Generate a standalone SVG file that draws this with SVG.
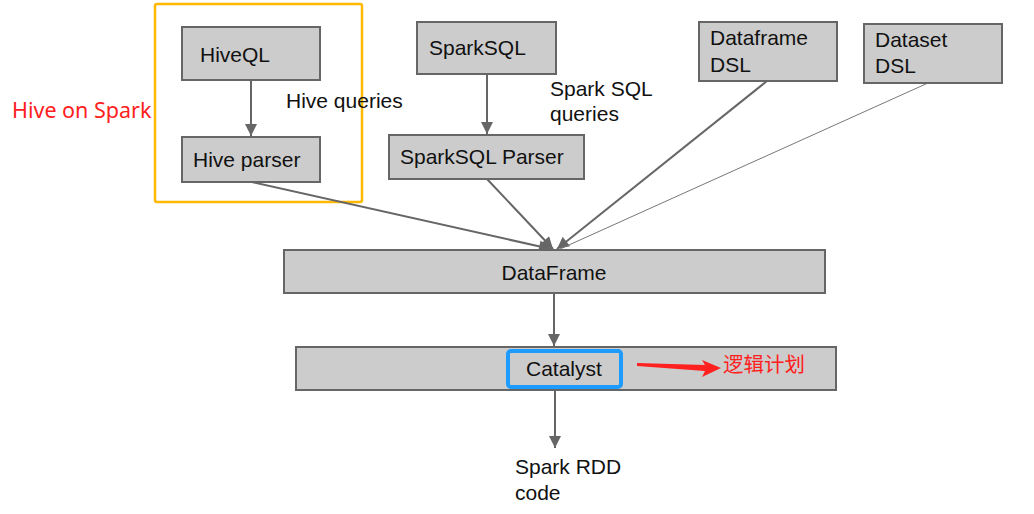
<svg xmlns="http://www.w3.org/2000/svg" width="1034" height="514" viewBox="0 0 1034 514">
<defs>
<style>
.box{fill:#cccccc;stroke:#666666;stroke-width:2}
.t{font-family:"Liberation Sans",Arial,sans-serif;font-size:21px;fill:#111111}
.c{stroke:#666666;stroke-width:2;fill:none}
.red{font-family:"Noto Sans","Noto Sans CJK SC",sans-serif;font-size:20.5px;fill:#ff2020}
</style>
<marker id="ah" viewBox="0 0 10 10" refX="10" refY="5" markerWidth="6.5" markerHeight="6" orient="auto" markerUnits="strokeWidth">
<path d="M0,0 L10,5 L0,10 z" fill="#666666"/>
</marker>
</defs>
<rect width="1034" height="514" fill="#ffffff"/>
<g id="hive-on-spark">
<rect x="155" y="4" width="207" height="198" rx="2" fill="none" stroke="#ffb900" stroke-width="2.5"/>
<text class="red" x="12" y="118" style="font-size:21.5px">Hive on Spark</text>
</g>
<g id="connectors">
<line class="c" x1="251" y1="80" x2="251" y2="136" marker-end="url(#ah)"/>
<line class="c" x1="487" y1="74" x2="487" y2="134" marker-end="url(#ah)"/>
<line class="c" x1="252" y1="182" x2="551" y2="249" marker-end="url(#ah)"/>
<line class="c" x1="487" y1="179" x2="553" y2="249" marker-end="url(#ah)"/>
<line class="c" x1="767" y1="81" x2="557" y2="249" marker-end="url(#ah)"/>
<line x1="928" y1="83" x2="560" y2="249" stroke="#777777" stroke-width="1"/>
<line class="c" x1="554" y1="293" x2="554" y2="346" marker-end="url(#ah)"/>
<line class="c" x1="555" y1="390" x2="555" y2="448" marker-end="url(#ah)"/>
<text class="t" x="286" y="108">Hive queries</text>
<text class="t" x="550" y="96">Spark SQL</text>
<text class="t" x="550" y="121">queries</text>
<text class="t" x="515" y="474">Spark RDD</text>
<text class="t" x="515" y="500">code</text>
</g>
<g id="hiveql"><rect class="box" x="182" y="27" width="138" height="53"/><text class="t" x="200" y="62">HiveQL</text></g>
<g id="hive-parser"><rect class="box" x="182" y="137" width="138" height="45"/><text class="t" x="193" y="167">Hive parser</text></g>
<g id="sparksql"><rect class="box" x="417" y="22" width="139" height="52"/><text class="t" x="429" y="55">SparkSQL</text></g>
<g id="sparksql-parser"><rect class="box" x="389" y="135" width="195" height="44"/><text class="t" x="400" y="164">SparkSQL Parser</text></g>
<g id="dataframe-dsl"><rect class="box" x="699" y="22" width="138" height="59"/><text class="t" x="710" y="45">Dataframe</text><text class="t" x="710" y="72">DSL</text></g>
<g id="dataset-dsl"><rect class="box" x="864" y="24" width="138" height="59"/><text class="t" x="875" y="47">Dataset</text><text class="t" x="875" y="73">DSL</text></g>
<g id="dataframe"><rect class="box" x="284" y="250" width="541" height="43"/><text class="t" x="554" y="280" text-anchor="middle">DataFrame</text></g>
<g id="catalyst-layer"><rect class="box" x="296" y="347" width="540" height="43"/></g>
<g id="catalyst"><rect x="508" y="351" width="113" height="36" rx="3" fill="#cccccc" stroke="#1e9bff" stroke-width="4"/><text class="t" x="526" y="376">Catalyst</text></g>
<g id="logical-plan">
<path d="M637,363 L705,365 L702,360 L721,368 L702,377 L705,371 L637,366 z" fill="#ff2020"/>
<text class="red" x="723" y="372">逻辑计划</text>
</g>
</svg>
